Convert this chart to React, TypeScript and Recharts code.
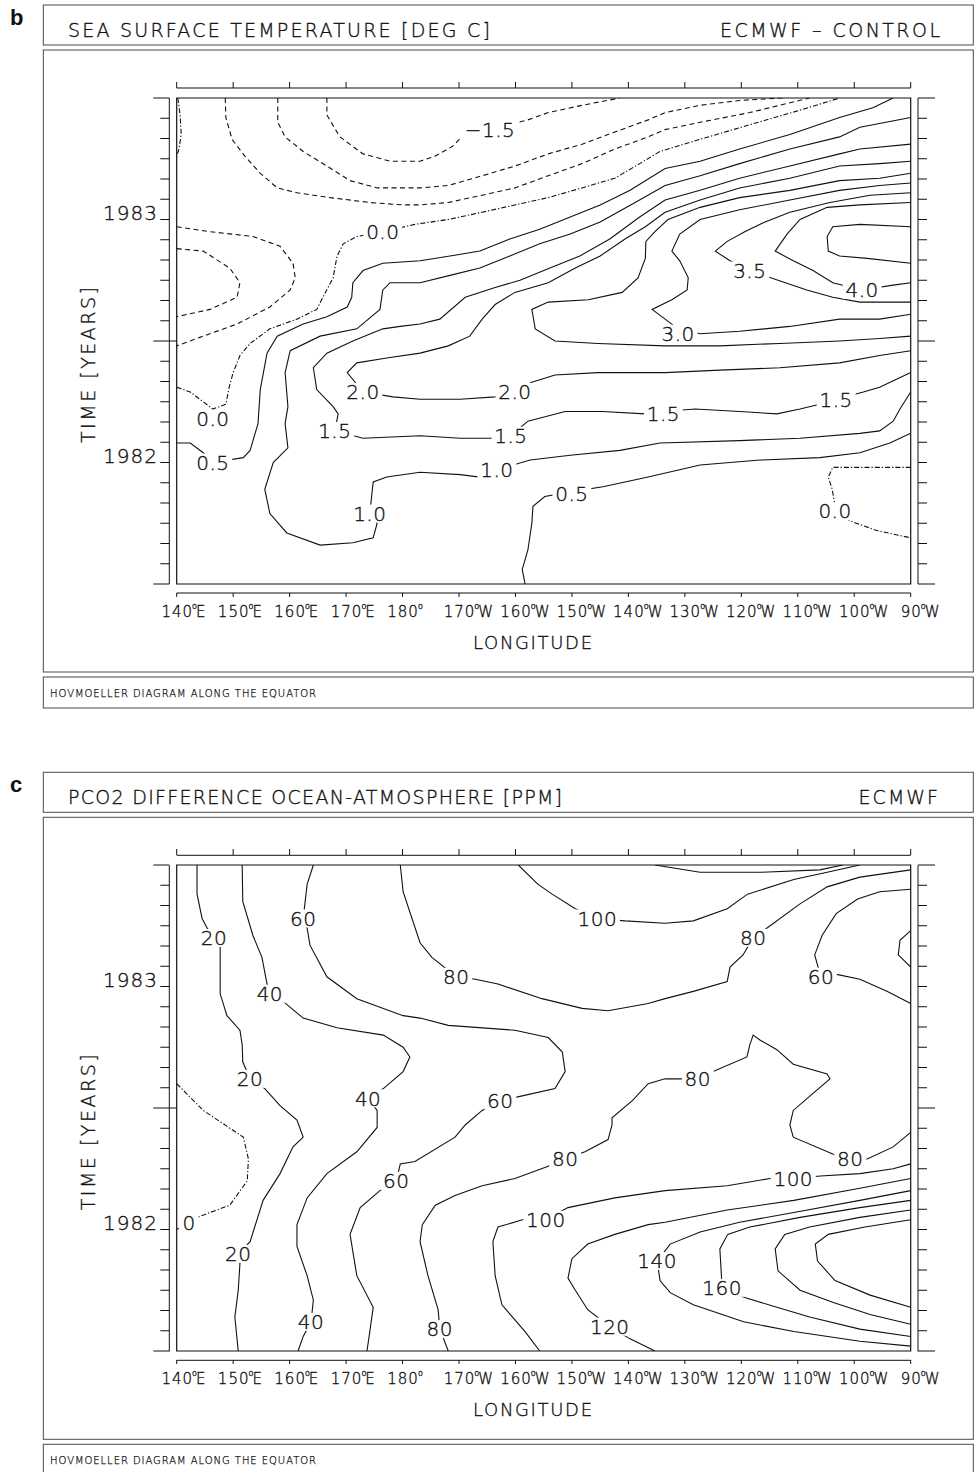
import React from 'react';
import { ComposedChart, Line, Scatter, XAxis, YAxis, ReferenceArea } from 'recharts';

// ---------- axes ----------
const LON_DOMAIN = [140, 270];
const TIME_DOMAIN = [1981.5, 1983.5];
const LON_TICKS = [140, 150, 160, 170, 180, 190, 200, 210, 220, 230, 240, 250, 260, 270];
const LON_LABELS = ['140°E', '150°E', '160°E', '170°E', '180°', '170°W', '160°W', '150°W', '140°W', '130°W', '120°W', '110°W', '100°W', '90°W'];
const YEAR_TICKS = [1982, 1983];
const YEAR_LABELS = ['1982', '1983'];
const MONTH_TICKS = Array.from({ length: 25 }, (_, k) => TIME_DOMAIN[0] + k / 12);

// ---------- panel b : SST anomaly contours [lon (deg E), time (yr)] ----------
const SST_N15 = [[166.6,1983.50],[166.6,1983.43],[168.9,1983.34],[173.0,1983.27],[177.8,1983.24],[183.1,1983.24],[185.7,1983.26],[188.8,1983.30],[190.5,1983.34],[195.5,1983.37],[202.2,1983.41],[205.8,1983.44],[211.8,1983.47],[218.5,1983.50]];
const SST_N10A = [[157.9,1983.50],[157.9,1983.40],[159.2,1983.34],[162.4,1983.28],[166.6,1983.22],[170.7,1983.16],[175.5,1983.13],[180.1,1983.13],[183.1,1983.13],[188.1,1983.14],[194.1,1983.18],[199.9,1983.22],[205.8,1983.27],[211.8,1983.31],[217.6,1983.36],[223.5,1983.41],[226.5,1983.44],[232.7,1983.47],[239.7,1983.49],[247.4,1983.50]];
const SST_N05A = [[148.6,1983.50],[148.7,1983.42],[149.8,1983.33],[152.1,1983.26],[154.8,1983.19],[157.8,1983.13],[161.3,1983.11],[167.2,1983.09],[174.2,1983.07],[180.1,1983.06],[183.1,1983.06],[188.1,1983.07],[194.1,1983.10],[199.9,1983.13],[205.8,1983.18],[211.8,1983.23],[217.6,1983.29],[223.5,1983.34],[226.5,1983.37],[232.7,1983.40],[241.5,1983.44],[252.1,1983.50]];
const SST_N05B = [[140,1982.97],[145.9,1982.95],[153.5,1982.93],[158.3,1982.89],[160.6,1982.82],[161.0,1982.76],[160.1,1982.71],[156.5,1982.64],[150.7,1982.57],[144.7,1982.52],[140,1982.48]];
const SST_N10B = [[140,1982.88],[144.7,1982.87],[149.4,1982.80],[151.2,1982.74],[150.7,1982.68],[145.9,1982.63],[140,1982.60]];
const SST_Z_A = [[140.2,1983.50],[140.6,1983.43],[140.8,1983.35],[140.4,1983.29],[140,1983.26]];
const SST_Z_B = [[140,1982.31],[142.4,1982.29],[144.7,1982.25],[146.4,1982.22],[148.7,1982.24],[149.3,1982.31],[150.0,1982.37],[151.2,1982.44],[153.0,1982.49],[156.5,1982.55],[161.3,1982.59],[164.8,1982.63],[165.9,1982.68],[167.7,1982.76],[168.4,1982.85],[169.5,1982.90],[171.9,1982.93],[176.5,1982.95],[182.2,1982.98],[188.1,1983.00],[194.1,1983.03],[199.9,1983.06],[205.8,1983.09],[211.8,1983.13],[217.6,1983.17],[222.0,1983.23],[225.6,1983.28],[232.7,1983.33],[241.5,1983.39],[250.4,1983.45],[257.4,1983.50]];
const SST_Z_C = [[270,1981.98],[261.0,1981.98],[256.2,1981.98],[255.4,1981.94],[256.1,1981.89],[256.6,1981.82],[259.2,1981.76],[264.0,1981.72],[270,1981.69]];
const SST_P05A = [[140,1982.08],[142.4,1982.08],[144.7,1982.04],[146.4,1982.00],[151.8,1982.02],[153.0,1982.05],[154.4,1982.16],[154.8,1982.30],[156.0,1982.45],[157.8,1982.52],[162.4,1982.57],[166.6,1982.60],[170.2,1982.64],[171.0,1982.68],[171.2,1982.74],[173.0,1982.79],[176.5,1982.82],[183.1,1982.83],[188.4,1982.85],[193.7,1982.87],[199.0,1982.92],[204.3,1982.96],[209.7,1983.01],[215.0,1983.06],[220.3,1983.12],[226.5,1983.21],[232.7,1983.24],[239.7,1983.29],[248.6,1983.35],[257.4,1983.42],[263.3,1983.46],[266.9,1983.50]];
const SST_P05B = [[201.7,1981.50],[201.2,1981.56],[202.2,1981.64],[202.9,1981.75],[203.1,1981.82],[205.2,1981.86],[210.0,1981.88],[215.5,1981.90],[223.5,1981.94],[232.7,1981.99],[243.3,1982.01],[253.9,1982.02],[261.0,1982.04],[266.3,1982.08],[270,1982.12]];
const SST_P10 = [[270,1983.42],[261.0,1983.38],[257.4,1983.34],[248.6,1983.29],[239.7,1983.23],[232.7,1983.18],[226.5,1983.14],[221.2,1983.07],[215.0,1982.99],[209.7,1982.94],[204.3,1982.90],[199.0,1982.85],[193.7,1982.80],[188.4,1982.77],[183.1,1982.74],[177.8,1982.74],[176.5,1982.71],[176.0,1982.63],[171.9,1982.55],[165.4,1982.52],[160.1,1982.46],[159.2,1982.37],[159.7,1982.23],[159.2,1982.16],[159.7,1982.06],[157.1,1982.00],[155.6,1981.89],[156.5,1981.79],[159.5,1981.71],[165.4,1981.66],[171.2,1981.67],[174.8,1981.69],[175.5,1981.75],[174.2,1981.79],[174.8,1981.92],[177.2,1981.94],[183.1,1981.96],[190.2,1981.95],[193.7,1981.94],[196.7,1981.97],[202.6,1982.01],[209.7,1982.03],[218.5,1982.05],[225.6,1982.08],[239.7,1982.09],[250.4,1982.10],[261.0,1982.12],[264.5,1982.13],[266.9,1982.17],[268.1,1982.22],[270,1982.29]];
const SST_P15 = [[270,1983.31],[261.0,1983.29],[257.4,1983.27],[248.6,1983.22],[239.7,1983.17],[232.7,1983.12],[226.5,1983.08],[222.0,1983.01],[216.7,1982.92],[211.4,1982.85],[206.1,1982.80],[200.8,1982.75],[196.4,1982.72],[191.1,1982.68],[186.6,1982.59],[183.1,1982.57],[179.6,1982.56],[176.5,1982.55],[171.2,1982.50],[166.6,1982.45],[164.2,1982.39],[164.8,1982.30],[167.7,1982.23],[168.6,1982.20],[168.0,1982.13],[173.0,1982.10],[183.1,1982.11],[190.2,1982.10],[195.7,1982.10],[199.2,1982.11],[202.2,1982.17],[208.8,1982.21],[215.4,1982.21],[223.0,1982.20],[226.2,1982.21],[231.8,1982.22],[239.7,1982.21],[246.3,1982.20],[250.4,1982.22],[253.9,1982.24],[256.8,1982.26],[261.6,1982.29],[264.5,1982.31],[270,1982.37]];
const SST_P20 = [[270,1983.24],[264.5,1983.23],[257.4,1983.22],[248.6,1983.17],[239.7,1983.13],[232.7,1983.08],[226.5,1983.03],[223.0,1982.97],[219.4,1982.92],[215.0,1982.85],[210.6,1982.80],[205.8,1982.74],[199.9,1982.70],[196.4,1982.65],[194.1,1982.59],[191.9,1982.52],[188.1,1982.48],[183.1,1982.45],[177.2,1982.43],[171.9,1982.41],[170.2,1982.37],[173.0,1982.29],[178.3,1982.27],[183.1,1982.26],[190.2,1982.26],[196.4,1982.27],[199.9,1982.29],[202.9,1982.33],[207.0,1982.36],[214.6,1982.37],[226.5,1982.37],[236.2,1982.38],[246.8,1982.39],[257.4,1982.41],[264.5,1982.44],[270,1982.46]];
const SST_P25 = [[270,1983.19],[264.5,1983.17],[257.4,1983.16],[248.6,1983.12],[239.7,1983.09],[232.7,1983.05],[227.0,1983.00],[224.7,1982.95],[223.1,1982.91],[223.0,1982.84],[221.7,1982.76],[218.9,1982.70],[212.9,1982.67],[205.8,1982.66],[202.9,1982.63],[203.5,1982.55],[207.0,1982.50],[214.6,1982.49],[226.5,1982.48],[236.2,1982.48],[246.8,1982.49],[257.4,1982.50],[264.5,1982.51],[270,1982.52]];
const SST_P30 = [[270,1983.15],[264.5,1983.14],[257.4,1983.12],[248.6,1983.08],[239.7,1983.04],[232.7,1983.00],[229.1,1982.94],[227.7,1982.87],[229.1,1982.83],[230.6,1982.76],[230.4,1982.71],[227.7,1982.67],[224.2,1982.63],[226.5,1982.59],[228.8,1982.55],[232.7,1982.53],[239.7,1982.54],[248.6,1982.56],[257.4,1982.59],[264.5,1982.59],[270,1982.61]];
const SST_P35 = [[270,1983.11],[262.8,1983.10],[255.7,1983.07],[248.6,1983.03],[244.2,1982.99],[240.6,1982.95],[237.5,1982.91],[235.4,1982.87],[238.0,1982.83],[241.5,1982.79],[246.5,1982.75],[251.6,1982.71],[256.2,1982.68],[261.0,1982.66],[270,1982.66]];
const SST_P40 = [[270,1983.07],[261.0,1983.06],[255.2,1983.05],[250.4,1983.00],[248.1,1982.94],[246.0,1982.87],[249.2,1982.83],[252.7,1982.79],[256.2,1982.74],[261.4,1982.71],[266.9,1982.73],[270,1982.74]];
const SST_P45 = [[270,1982.97],[261.0,1982.98],[256.2,1982.97],[255.2,1982.93],[255.4,1982.87],[257.4,1982.85],[262.3,1982.84],[270,1982.82]];

const SST_CONTOURS = [
  { level: -1.5, pts: SST_N15 }, { level: -1.0, pts: SST_N10A }, { level: -0.5, pts: SST_N05A },
  { level: -0.5, pts: SST_N05B }, { level: -1.0, pts: SST_N10B },
  { level: 0, pts: SST_Z_A }, { level: 0, pts: SST_Z_B }, { level: 0, pts: SST_Z_C },
  { level: 0.5, pts: SST_P05A }, { level: 0.5, pts: SST_P05B }, { level: 1.0, pts: SST_P10 },
  { level: 1.5, pts: SST_P15 }, { level: 2.0, pts: SST_P20 }, { level: 2.5, pts: SST_P25 },
  { level: 3.0, pts: SST_P30 }, { level: 3.5, pts: SST_P35 }, { level: 4.0, pts: SST_P40 }, { level: 4.5, pts: SST_P45 },
];
const SST_LABELS = [
  [195.5,1983.37,'−1.5'],[176.5,1982.95,'0.0'],[146.4,1982.18,'0.0'],[256.6,1981.80,'0.0'],
  [146.4,1982.00,'0.5'],[210.0,1981.87,'0.5'],[174.2,1981.79,'1.0'],[196.7,1981.97,'1.0'],
  [168.0,1982.13,'1.5'],[199.2,1982.11,'1.5'],[226.2,1982.20,'1.5'],[256.8,1982.26,'1.5'],
  [173.0,1982.29,'2.0'],[199.9,1982.29,'2.0'],[228.8,1982.53,'3.0'],[241.5,1982.79,'3.5'],[261.4,1982.71,'4.0'],
];

// ---------- panel c : pCO2 difference contours ----------
const PCO_0 = [[140,1982.60],[144.7,1982.49],[151.8,1982.38],[152.7,1982.29],[152.5,1982.20],[149.4,1982.10],[143.6,1982.05],[142.2,1982.03],[140,1982.00]];
const PCO_20 = [[143.6,1983.50],[143.6,1983.38],[144.5,1983.28],[145.4,1983.24],[146.6,1983.20],[147.7,1983.17],[147.7,1983.08],[147.7,1982.97],[148.9,1982.88],[151.2,1982.82],[151.6,1982.76],[151.7,1982.69],[153.0,1982.62],[155.6,1982.58],[158.3,1982.51],[161.3,1982.45],[162.4,1982.38],[160.6,1982.34],[158.3,1982.23],[155.3,1982.12],[153.0,1981.95],[150.9,1981.90],[151.2,1981.86],[150.9,1981.75],[150.3,1981.64],[150.9,1981.50]];
const PCO_40A = [[151.6,1983.50],[151.7,1983.35],[153.5,1983.21],[155.1,1983.12],[156.0,1983.01],[156.5,1982.97],[158.8,1982.94],[162.4,1982.87],[168.4,1982.83],[176.6,1982.80],[180.1,1982.75],[181.3,1982.71],[180.1,1982.65],[176.6,1982.58],[173.9,1982.54],[175.5,1982.49],[175.5,1982.42],[171.9,1982.32],[166.6,1982.23],[163.1,1982.13],[161.3,1982.02],[161.3,1981.93],[163.1,1981.81],[164.2,1981.71],[163.8,1981.62],[162.4,1981.56],[161.5,1981.50]];
const PCO_40B = [[270,1983.23],[268.1,1983.19],[267.8,1983.13],[270,1983.08]];
const PCO_60A = [[164.2,1983.50],[163.1,1983.42],[162.4,1983.28],[163.1,1983.24],[163.6,1983.17],[166.6,1983.04],[171.9,1982.95],[180.1,1982.88],[183.1,1982.87],[188.1,1982.84],[199.9,1982.82],[205.8,1982.79],[208.3,1982.73],[208.8,1982.65],[207.0,1982.58],[201.2,1982.55],[197.3,1982.53],[194.1,1982.49],[191.1,1982.43],[189.3,1982.38],[182.2,1982.28],[179.6,1982.27],[178.9,1982.20],[176.0,1982.16],[172.5,1982.09],[170.7,1981.98],[171.9,1981.81],[174.8,1981.68],[174.2,1981.58],[173.7,1981.50]];
const PCO_60B = [[270,1983.40],[264.5,1983.39],[260.6,1983.36],[256.8,1983.30],[254.3,1983.21],[253.0,1983.13],[253.6,1983.08],[254.1,1983.04],[256.9,1983.05],[261.0,1983.03],[265.8,1982.98],[270,1982.93]];
const PCO_80A = [[179.6,1983.50],[180.1,1983.39],[183.1,1983.18],[185.2,1983.12],[189.5,1983.04],[192.9,1983.03],[196.9,1983.01],[204.7,1982.95],[211.8,1982.91],[216.4,1982.90],[223.5,1982.93],[226.5,1982.95],[231.5,1982.98],[237.5,1983.02],[238.0,1983.08],[240.3,1983.13],[242.1,1983.20],[245.1,1983.25],[250.4,1983.34],[255.2,1983.41],[261.0,1983.45],[270,1983.48]];
const PCO_80B = [[188.1,1981.50],[186.6,1981.59],[186.3,1981.67],[184.5,1981.81],[183.1,1981.95],[183.5,1982.02],[185.8,1982.10],[189.3,1982.14],[194.1,1982.18],[199.9,1982.21],[205.8,1982.26],[208.8,1982.29],[212.3,1982.32],[216.4,1982.37],[217.1,1982.43],[217.1,1982.46],[220.7,1982.53],[223.5,1982.60],[226.5,1982.62],[232.3,1982.62],[235.0,1982.65],[241.0,1982.71],[241.5,1982.76],[242.1,1982.80],[243.3,1982.78],[246.3,1982.74],[249.2,1982.68],[255.2,1982.64],[255.7,1982.62],[252.7,1982.56],[249.2,1982.49],[248.6,1982.43],[249.2,1982.38],[256.3,1982.31],[259.3,1982.29],[262.3,1982.29],[266.9,1982.34],[270,1982.40]];
const PCO_100A = [[200.5,1983.50],[204.0,1983.42],[206.5,1983.38],[210.6,1983.32],[214.5,1983.28],[219.4,1983.27],[226.5,1983.26],[231.5,1983.27],[237.5,1983.32],[241.1,1983.38],[249.3,1983.44],[255.2,1983.47],[261.0,1983.50]];
const PCO_120A = [[224.7,1983.50],[232.7,1983.47],[243.3,1983.47],[253.9,1983.48],[258.0,1983.50]];
const PCO_100B = [[204.3,1981.50],[201.7,1981.58],[197.6,1981.69],[196.4,1981.81],[196.0,1981.95],[196.9,1982.01],[201.2,1982.04],[205.4,1982.04],[209.3,1982.09],[217.6,1982.13],[226.5,1982.16],[237.5,1982.18],[245.1,1982.21],[249.2,1982.21],[254.0,1982.22],[261.0,1982.23],[266.9,1982.25],[270,1982.27]];
const PCO_120B = [[270,1982.21],[261.0,1982.17],[249.3,1982.12],[237.5,1982.08],[226.5,1982.03],[223.5,1982.02],[217.6,1981.98],[212.8,1981.94],[210.0,1981.88],[209.3,1981.80],[210.6,1981.75],[212.8,1981.67],[216.7,1981.60],[220.3,1981.55],[224.7,1981.50]];
const PCO_140 = [[270,1982.16],[261.0,1982.12],[249.3,1982.07],[239.7,1982.03],[232.7,1981.99],[227.4,1981.94],[225.1,1981.87],[225.6,1981.79],[227.4,1981.74],[231.5,1981.69],[240.4,1981.62],[249.3,1981.58],[261.0,1981.54],[270,1981.52]];
const PCO_160 = [[270,1982.12],[261.0,1982.09],[250.4,1982.05],[241.5,1982.01],[237.6,1981.98],[236.2,1981.92],[236.6,1981.76],[240.6,1981.72],[246.3,1981.68],[252.1,1981.64],[261.0,1981.59],[270,1981.56]];
const PCO_180 = [[270,1982.08],[261.0,1982.05],[252.1,1982.01],[247.7,1981.98],[246.0,1981.92],[246.5,1981.83],[250.4,1981.75],[256.3,1981.70],[262.8,1981.65],[270,1981.61]];
const PCO_200 = [[270,1982.04],[261.9,1982.01],[255.4,1981.98],[253.1,1981.94],[253.5,1981.87],[256.6,1981.79],[262.8,1981.73],[270,1981.68]];

const PCO_CONTOURS = [
  { level: 0, pts: PCO_0 }, { level: 20, pts: PCO_20 }, { level: 40, pts: PCO_40A }, { level: 40, pts: PCO_40B },
  { level: 60, pts: PCO_60A }, { level: 60, pts: PCO_60B }, { level: 80, pts: PCO_80A }, { level: 80, pts: PCO_80B },
  { level: 100, pts: PCO_100A }, { level: 120, pts: PCO_120A }, { level: 100, pts: PCO_100B }, { level: 120, pts: PCO_120B },
  { level: 140, pts: PCO_140 }, { level: 160, pts: PCO_160 }, { level: 180, pts: PCO_180 }, { level: 200, pts: PCO_200 },
];
const PCO_LABELS = [
  [146.6,1983.20,'20'],[153.0,1982.62,'20'],[150.9,1981.90,'20'],
  [156.5,1982.97,'40'],[173.9,1982.54,'40'],[163.8,1981.62,'40'],
  [162.4,1983.28,'60'],[197.3,1982.53,'60'],[178.9,1982.20,'60'],[254.1,1983.04,'60'],
  [189.5,1983.04,'80'],[242.1,1983.20,'80'],[232.3,1982.62,'80'],[208.8,1982.29,'80'],[259.3,1982.29,'80'],[186.6,1981.59,'80'],
  [214.5,1983.28,'100'],[205.4,1982.04,'100'],[249.2,1982.21,'100'],
  [216.7,1981.60,'120'],[225.1,1981.87,'140'],[236.6,1981.76,'160'],[142.2,1982.03,'0'],
];

// ---------- styling / layout ----------
const INK = '#111';
const FRAME = '#4a4a4a';
const FONT = "'DejaVu Sans', 'Liberation Sans', sans-serif";
const LIGHT = 200;
const TXT = { fontFamily: FONT, fontWeight: LIGHT, fill: INK, stroke: INK, strokeWidth: 0.35 } as any;
const PANEL_SHIFT = 767.3;
const CHART_TOP = 50;          // chart svg top inside a panel (page y)
const PL = 176.7, PR = 910.7;  // plot left/right (page x)
const PT = 98, PB = 584;       // plot top/bottom (page y, panel b)
const TOP_AX = 88, BOT_AX = 593, LEFT_AX = 169.3, RIGHT_AX = 918;

const PANELS = [
  { letter: 'b', title: 'SEA SURFACE TEMPERATURE [DEG C]', titleW: 422, source: 'ECMWF – CONTROL', sourceW: 220, contours: SST_CONTOURS, labels: SST_LABELS },
  { letter: 'c', title: 'PCO2 DIFFERENCE OCEAN-ATMOSPHERE [PPM]', titleW: 494, source: 'ECMWF', sourceW: 0, contours: PCO_CONTOURS, labels: PCO_LABELS },
];

const dashFor = (lv: number) => (lv < 0 ? '5 3.5' : lv === 0 ? '5 2 1.3 2' : undefined);

function LonTick(props: any) {
  const { x, payload } = props;
  const i = LON_TICKS.indexOf(payload.value);
  const lab = LON_LABELS[i] || '';
  const num = lab.replace(/[^0-9]/g, '');
  const hemi = lab.replace(/[0-9°]/g, '');
  const fs = 15;
  const numW = num.length * 0.636 * fs + (num.length - 1) * 1;
  const ty = TOP_AX - CHART_TOP, by = BOT_AX - CHART_TOP;
  return (
    <g>
      <line x1={x} x2={x} y1={ty} y2={ty - 6} stroke={INK} strokeWidth={1} />
      <line x1={x} x2={x} y1={by} y2={by + 4} stroke={INK} strokeWidth={1} />
      <text x={x - numW / 2} y={617 - CHART_TOP} fontSize={fs} letterSpacing={1} {...TXT}>
        {num}
        <tspan fontSize={8} dx={-1} dy={-8}>o</tspan>
        {hemi ? <tspan dx={-2} dy={8}>{hemi}</tspan> : null}
      </text>
    </g>
  );
}

function TimeTick(props: any) {
  const { y, payload } = props;
  const k = Math.round((payload.value - TIME_DOMAIN[0]) * 12);
  const long = k % 12 === 0;
  const li = YEAR_TICKS.findIndex((v) => Math.abs(v - payload.value) < 1e-6);
  return (
    <g>
      <line x1={LEFT_AX} x2={LEFT_AX - (long ? 16 : 9)} y1={y} y2={y} stroke={INK} strokeWidth={1} />
      {k === 12 ? <line x1={LEFT_AX} x2={PL} y1={y} y2={y} stroke={INK} strokeWidth={1} /> : null}
      <line x1={RIGHT_AX} x2={RIGHT_AX + (long ? 17 : 9)} y1={y} y2={y} stroke={INK} strokeWidth={1} />
      {li >= 0 ? (
        <text x={158} y={y} textAnchor="end" fontSize={20} letterSpacing={1} {...TXT}>
          {YEAR_LABELS[li]}
        </text>
      ) : null}
    </g>
  );
}

function LabelMark(props: any) {
  const { cx, cy, payload } = props;
  if (cx == null || cy == null) return null;
  const t: string = payload.text;
  const fs = 20;
  let w = 0;
  for (const ch of t) w += ch === '.' ? 0.318 : ch === '−' ? 0.838 : 0.636;
  w = w * fs + (t.length - 1) * 0.5;
  return (
    <g>
      <rect x={cx - w / 2 - 3} y={cy - 9} width={w + 6} height={18} fill="#fff" />
      <text x={cx} y={cy + 7.3} textAnchor="middle" fontSize={fs} letterSpacing={0.5} {...TXT}>
        {t}
      </text>
    </g>
  );
}

function Panel({ cfg, shift }: any) {
  const contours = cfg.contours.map((c: any) => ({ level: c.level, data: c.pts.map((p: number[]) => ({ lon: p[0], t: p[1] })) }));
  const labels = cfg.labels.map((l: any[]) => ({ lon: l[0], t: l[1], text: l[2] }));
  const H = 622;
  return (
    <div style={{ position: 'absolute', left: 0, top: shift + CHART_TOP, width: 979, height: H }}>
      <ComposedChart
        width={979}
        height={H}
        margin={{ top: PT - CHART_TOP, right: 979 - PR, bottom: H - (PB - CHART_TOP) - 60, left: PL - 60 }}
      >
        <XAxis xAxisId="lon" dataKey="lon" type="number" domain={LON_DOMAIN} ticks={LON_TICKS} interval={0} allowDataOverflow height={60} axisLine={false} tickLine={false} tick={(p: any) => <LonTick {...p} />} />
        <YAxis yAxisId="t" dataKey="t" type="number" domain={TIME_DOMAIN} ticks={MONTH_TICKS} interval={0} allowDataOverflow width={60} axisLine={false} tickLine={false} tick={(p: any) => <TimeTick {...p} />} />
        {contours.map((c: any, i: number) => (
          <Line
            key={'c' + i}
            xAxisId="lon"
            yAxisId="t"
            data={c.data}
            dataKey="t"
            type="linear"
            dot={false}
            activeDot={false}
            stroke={INK}
            strokeWidth={1.1}
            strokeDasharray={dashFor(c.level)}
            isAnimationActive={false}
            legendType="none"
          />
        ))}
        <Scatter xAxisId="lon" yAxisId="t" data={labels} dataKey="t" shape={(p: any) => <LabelMark {...p} />} isAnimationActive={false} legendType="none" />
        <ReferenceArea xAxisId="lon" yAxisId="t" x1={LON_DOMAIN[0]} x2={LON_DOMAIN[1]} y1={TIME_DOMAIN[0]} y2={TIME_DOMAIN[1]} fill="none" stroke={INK} strokeWidth={1.2} ifOverflow="visible" />
      </ComposedChart>
    </div>
  );
}

function Frames({ cfg, shift }: any) {
  const o = shift;
  return (
    <g>
      <text x={10} y={25 + o} fontFamily="'Liberation Sans', Arial, sans-serif" fontWeight={700} fontSize={22} fill="#111">{cfg.letter}</text>
      <rect x={43.3} y={5 + o} width={930} height={40} fill="none" stroke={FRAME} strokeWidth={1} />
      <rect x={43.3} y={50 + o} width={930} height={622} fill="none" stroke={FRAME} strokeWidth={1} />
      <rect x={43.3} y={677 + o} width={930} height={31} fill="none" stroke={FRAME} strokeWidth={1} />
      <text x={68} y={37 + o} fontSize={19} textLength={cfg.titleW} lengthAdjust="spacing" {...TXT}>{cfg.title}</text>
      {cfg.sourceW ? (
        <text x={720} y={37 + o} fontSize={19} textLength={cfg.sourceW} lengthAdjust="spacing" {...TXT}>{cfg.source}</text>
      ) : (
        <text x={940} y={37 + o} fontSize={19} textAnchor="end" letterSpacing={2} {...TXT}>{cfg.source}</text>
      )}
      <text x={50} y={697 + o} fontSize={10} textLength={266} lengthAdjust="spacing" {...TXT} strokeWidth={0.25}>HOVMOELLER DIAGRAM ALONG THE EQUATOR</text>
      <text x={473} y={649 + o} fontSize={18} textLength={119} lengthAdjust="spacing" {...TXT}>LONGITUDE</text>
      <text x={0} y={0} fontSize={19} textAnchor="middle" textLength={156} lengthAdjust="spacing" transform={`translate(95 ${365 + o}) rotate(-90)`} {...TXT}>TIME [YEARS]</text>
      <line x1={PL} x2={PR} y1={TOP_AX + o} y2={TOP_AX + o} stroke={INK} strokeWidth={1} />
      <line x1={PL} x2={PR} y1={BOT_AX + o} y2={BOT_AX + o} stroke={INK} strokeWidth={1} />
      <line x1={LEFT_AX} x2={LEFT_AX} y1={PT + o} y2={PB + o} stroke={INK} strokeWidth={1} />
      <line x1={RIGHT_AX} x2={RIGHT_AX} y1={PT + o} y2={PB + o} stroke={INK} strokeWidth={1} />
    </g>
  );
}

export default function App() {
  return (
    <div style={{ position: 'absolute', left: 0, top: 0, width: 979, height: 1472, overflow: 'hidden', background: '#fff' }}>
      {PANELS.map((cfg, i) => (
        <Panel key={cfg.letter} cfg={cfg} shift={i * PANEL_SHIFT} />
      ))}
      <svg width={979} height={1472} style={{ position: 'absolute', left: 0, top: 0, pointerEvents: 'none' }}>
        {PANELS.map((cfg, i) => (
          <Frames key={cfg.letter} cfg={cfg} shift={i * PANEL_SHIFT} />
        ))}
      </svg>
    </div>
  );
}
